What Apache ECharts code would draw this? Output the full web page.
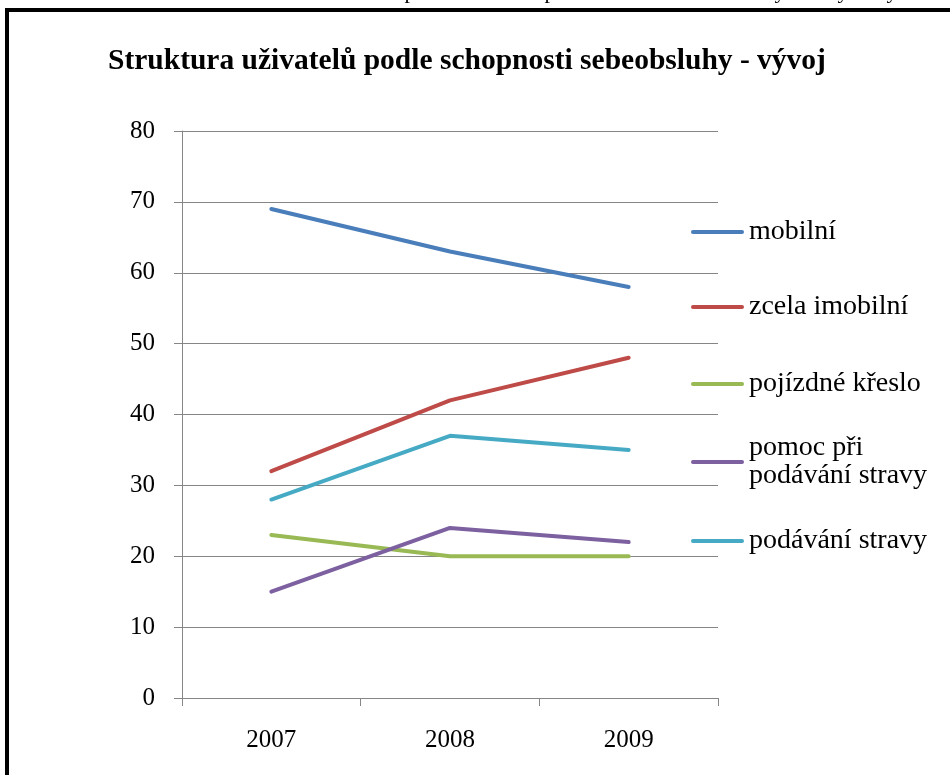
<!DOCTYPE html>
<html>
<head>
<meta charset="utf-8">
<script src="https://cdn.jsdelivr.net/npm/echarts@6/dist/echarts.min.js"></script>
<style>
html,body{margin:0;padding:0;background:#fff;}
#chart{width:950px;height:775px;}
</style>
</head>
<body>
<div id="chart"></div>
<script>
const titleText = 'Struktura uživatelů podle schopnosti sebeobsluhy - vývoj';
const categories = ['2007', '2008', '2009'];
const seriesNames = ['mobilní', 'zcela imobilní', 'pojízdné křeslo', 'pomoc při podávání stravy', 'podávání stravy'];
const mobilni = [69, 63, 58];
const zcelaImobilni = [32, 42, 48];
const pojizdneKreslo = [23, 20, 20];
const pomocPriPodavani = [15, 24, 22];
const podavaniStravy = [28, 37, 35];
const colors = ['#4A7EBB', '#BE4B48', '#98B954', '#7D60A0', '#46AAC5'];
const yMin = 0, yMax = 80, yStep = 10;
// fragments of the cut-off text line above the chart frame
const topFragments = ['p', 'p', 'y', 'y', 'y'];

const seriesData = [mobilni, zcelaImobilni, pojizdneKreslo, pomocPriPodavani, podavaniStravy];
const legendTops = [232, 307, 384, 462, 541];
const fragmentX = [410, 550, 780, 843, 892];
const serif = '"Liberation Serif", "Times New Roman", serif';
const barIcon = 'path://M2,0 L51,0 A2,2 0 0 1 51,4 L2,4 A2,2 0 0 1 2,0 Z';

const chart = echarts.init(document.getElementById('chart'));

const legends = seriesNames.map((name, i) => {
  const twoLine = i === 3;
  return {
    orient: 'vertical',
    left: 691,
    top: twoLine ? legendTops[i] - 42 : legendTops[i] - 14,
    padding: 0,
    itemWidth: 53,
    itemHeight: 28,
    icon: barIcon,
    data: [name],
    selectedMode: false,
    formatter: twoLine ? () => 'pomoc při\npodávání stravy' : undefined,
    textStyle: {
      fontFamily: serif,
      fontSize: 28,
      color: '#000',
      lineHeight: 28,
      padding: twoLine ? [28, 0, 0, 0] : 0
    }
  };
});

const fragments = topFragments.map((t, i) => ({
  type: 'text',
  x: fragmentX[i],
  y: 3,
  silent: true,
  style: { text: t, font: '22px ' + serif, fill: '#000', verticalAlign: 'bottom', align: 'center' }
}));

chart.setOption({
  animation: false,
  color: colors,
  title: {
    text: titleText,
    left: 108,
    top: 46,
    padding: 0,
    textStyle: { fontFamily: serif, fontSize: 29.5, fontWeight: 'bold', color: '#000' }
  },
  legend: legends,
  grid: { left: 182, right: 232, top: 131, bottom: 77, containLabel: false },
  xAxis: {
    type: 'category',
    data: categories,
    boundaryGap: true,
    axisLine: { lineStyle: { color: '#868686', width: 1 } },
    axisTick: { show: true, length: 8, lineStyle: { color: '#868686' } },
    axisLabel: { fontFamily: serif, fontSize: 25, color: '#000', margin: 30 }
  },
  yAxis: {
    type: 'value',
    min: yMin, max: yMax, interval: yStep,
    axisLine: { show: true, lineStyle: { color: '#868686', width: 1 } },
    axisTick: { show: true, length: 8, lineStyle: { color: '#868686' } },
    splitLine: { lineStyle: { color: '#868686', width: 1 } },
    axisLabel: { fontFamily: serif, fontSize: 25, color: '#000', margin: 27, padding: [6, 0, 0, 0] }
  },
  series: seriesNames.map((name, i) => ({
    name,
    type: 'line',
    data: seriesData[i],
    symbol: 'none',
    lineStyle: { width: 4, color: colors[i], cap: 'round', join: 'round' },
    itemStyle: { color: colors[i] }
  })),
  graphic: [
    {
      type: 'rect',
      shape: { x: 7, y: 10, width: 1200, height: 1200 },
      style: { fill: 'none', stroke: '#000', lineWidth: 4 },
      silent: true
    }
  ].concat(fragments)
});
</script>
</body>
</html>
